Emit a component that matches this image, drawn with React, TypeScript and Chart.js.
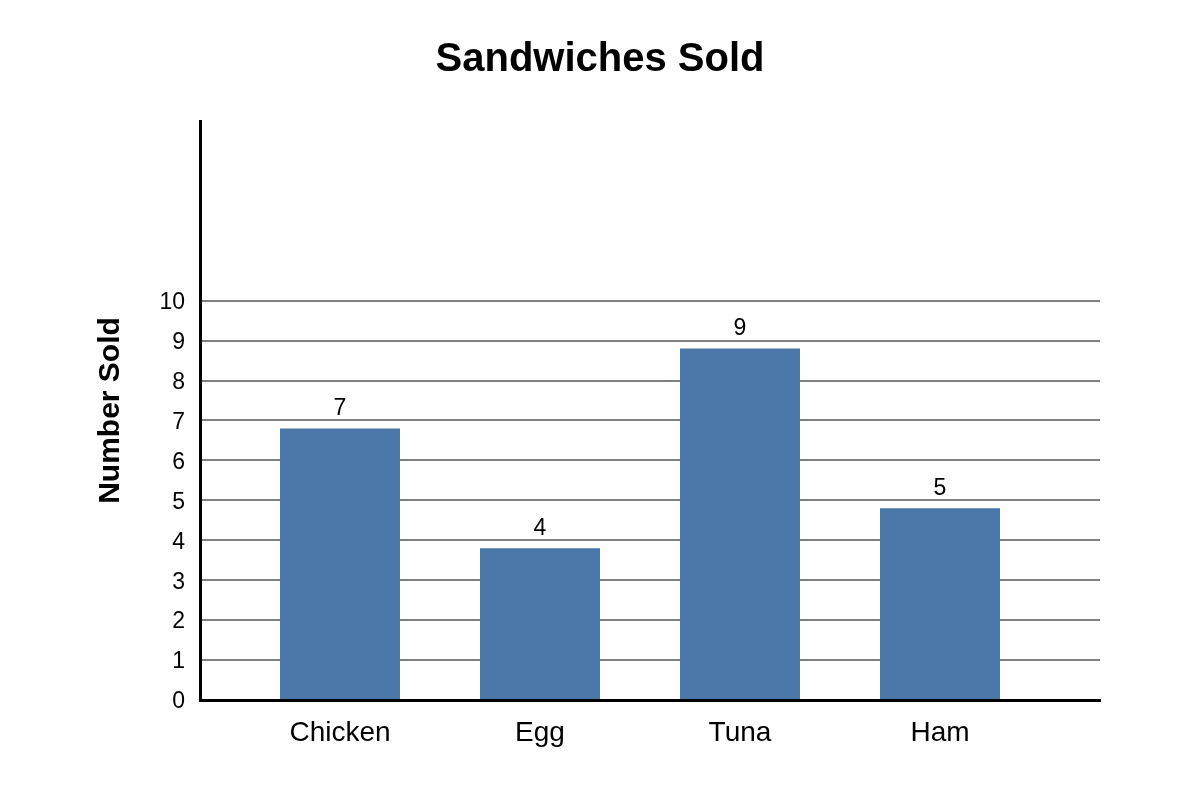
import { useEffect, useRef } from "react";
import { Chart, registerables } from "chart.js";

Chart.register(...registerables);

const categories = ["Chicken", "Egg", "Tuna", "Ham"];
const barHeights = [6.8, 3.8, 8.8, 4.8];
const valueLabels = ["7", "4", "9", "5"];
const yTicks = [0, 1, 2, 3, 4, 5, 6, 7, 8, 9, 10];

const FONT = "'Liberation Sans', Arial, sans-serif";

// first category sits 0.7 of a slot in from the y axis
const X_START = 0.7;

const valueLabelPlugin = {
  id: "valueLabels",
  afterDatasetsDraw(chart: Chart) {
    const { ctx } = chart;
    const meta = chart.getDatasetMeta(0);
    ctx.save();
    ctx.font = `23px ${FONT}`;
    ctx.fillStyle = "#000";
    ctx.textAlign = "center";
    ctx.textBaseline = "bottom";
    meta.data.forEach((bar: any, i: number) => {
      ctx.fillText(valueLabels[i], bar.x, bar.y - 8);
    });
    ctx.restore();
  },
};

export default function App() {
  const canvasRef = useRef<HTMLCanvasElement>(null);
  const chartRef = useRef<Chart | null>(null);

  useEffect(() => {
    document.body.style.margin = "0";
    if (!canvasRef.current) return;
    if (chartRef.current) chartRef.current.destroy();

    chartRef.current = new Chart(canvasRef.current, {
      type: "bar",
      data: {
        datasets: [
          {
            data: barHeights.map((v, i) => ({ x: i + X_START, y: v })),
            backgroundColor: "#4a77a8",
            categoryPercentage: 1,
            barPercentage: 0.6,
          },
        ],
      },
      options: {
        animation: false,
        responsive: false,
        layout: { padding: 0 },
        plugins: {
          legend: { display: false },
          tooltip: { enabled: false },
          title: {
            display: true,
            text: "Sandwiches Sold",
            color: "#000",
            font: { family: FONT, size: 40, weight: "bold" },
            padding: { top: 36, bottom: 37 },
          },
        },
        scales: {
          x: {
            type: "linear",
            min: 0,
            max: 4.5,
            offset: false,
            afterBuildTicks: (scale: any) => {
              scale.ticks = categories.map((_, i) => ({ value: i + X_START }));
            },
            afterFit: (scale: any) => {
              scale.height = 100;
            },
            grid: { display: false, drawTicks: false },
            border: { display: true, color: "#000", width: 3 },
            ticks: {
              autoSkip: false,
              maxRotation: 0,
              padding: 16,
              color: "#000",
              font: { family: FONT, size: 28 },
              callback: (_v: any, i: number) => categories[i],
            },
          },
          y: {
            min: 0,
            max: 14.5,
            afterBuildTicks: (scale: any) => {
              scale.ticks = yTicks.map((v) => ({ value: v }));
            },
            afterFit: (scale: any) => {
              scale.width = 200;
            },
            grid: { color: "#808080", lineWidth: 2, drawTicks: false },
            border: { display: true, color: "#000", width: 3 },
            ticks: {
              padding: 15,
              labelOffset: 2,
              color: "#000",
              font: { family: FONT, size: 23 },
              callback: (v: any) => String(v),
            },
            title: {
              display: true,
              text: "Number Sold",
              color: "#000",
              font: { family: FONT, size: 30, weight: "bold" },
              padding: { top: 93, bottom: 0 },
            },
          },
          // empty right-hand axis: keeps space on the right so the title stays centred on the page
          yRight: {
            position: "right",
            afterFit: (scale: any) => {
              scale.width = 100;
            },
            grid: { display: false, drawTicks: false },
            border: { display: false },
            ticks: { display: false },
          },
        },
      },
      plugins: [valueLabelPlugin],
    } as any);

    return () => {
      if (chartRef.current) chartRef.current.destroy();
      chartRef.current = null;
    };
  }, []);

  return (
    <div style={{ width: 1200, height: 800, background: "#fff" }}>
      <canvas ref={canvasRef} width={1200} height={800} />
    </div>
  );
}
